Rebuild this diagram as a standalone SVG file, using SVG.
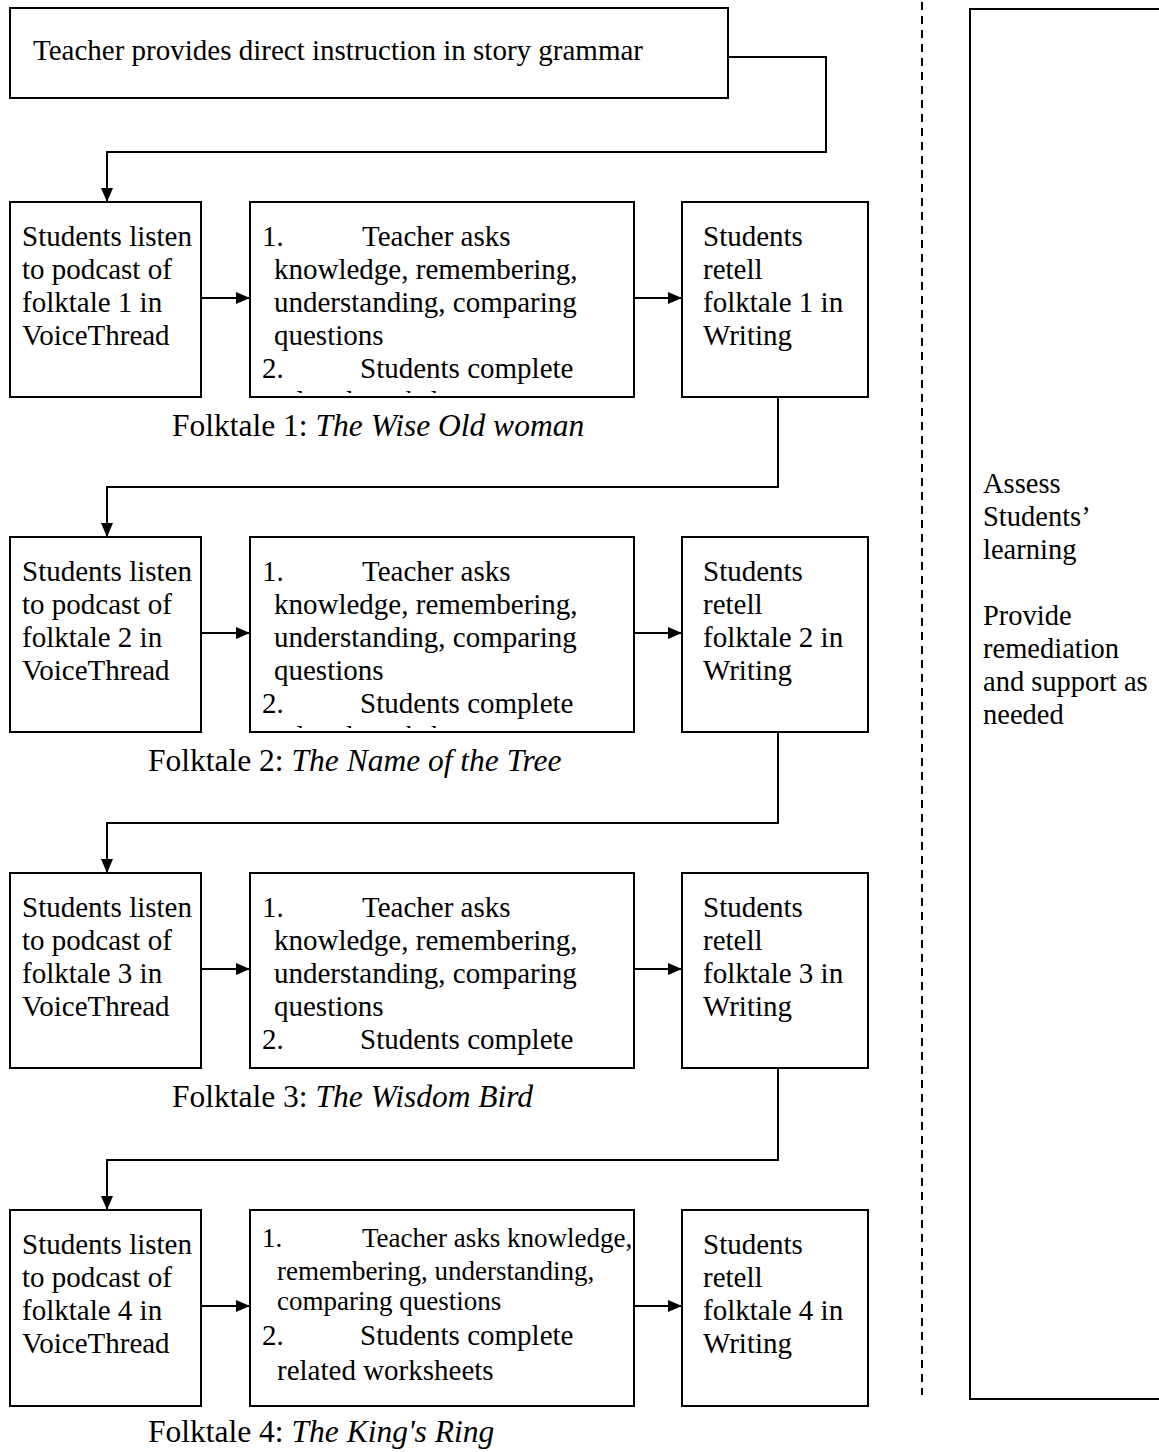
<svg xmlns="http://www.w3.org/2000/svg" width="1159" height="1452" viewBox="0 0 1159 1452">
  <style>
    .box { fill: #ffffff; stroke: #000000; stroke-width: 2; }
    .t { font-family: "Liberation Serif", "Times New Roman", serif; font-size: 29px; fill: #000000; }
    .ts { font-family: "Liberation Serif", "Times New Roman", serif; font-size: 27px; fill: #000000; }
    .tr { font-family: "Liberation Serif", "Times New Roman", serif; font-size: 28.5px; fill: #000000; }
    .cap { font-family: "Liberation Serif", "Times New Roman", serif; font-size: 31.5px; fill: #000000; }
    .it { font-style: italic; }
    .conn { fill: none; stroke: #000000; stroke-width: 2; }
    .dash { fill: none; stroke: #000000; stroke-width: 2; stroke-dasharray: 8 6; }
  </style>
  <defs>
    <marker id="arrow" markerUnits="userSpaceOnUse" markerWidth="14" markerHeight="12" refX="14" refY="6" orient="auto">
      <path d="M0,0 L14,6 L0,12 z" fill="#000000"/>
    </marker>
    <clipPath id="clip1"><rect x="250" y="202" width="384" height="191"/></clipPath>
    <clipPath id="clip2"><rect x="250" y="537" width="384" height="191"/></clipPath>
  </defs>

  <rect width="1159" height="1452" fill="#ffffff"/>

  <!-- separator between the flow and the assessment column -->
  <line class="dash" x1="922" y1="2" x2="922" y2="1395"/>

  <!-- connectors -->
  <g id="connectors">
    <path class="conn" d="M728,57 H826 V152 H107 V202" marker-end="url(#arrow)"/>
    <path class="conn" d="M201,298 H250" marker-end="url(#arrow)"/>
    <path class="conn" d="M634,298 H682" marker-end="url(#arrow)"/>
    <path class="conn" d="M778,397 V487 H107 V537" marker-end="url(#arrow)"/>
    <path class="conn" d="M201,633 H250" marker-end="url(#arrow)"/>
    <path class="conn" d="M634,633 H682" marker-end="url(#arrow)"/>
    <path class="conn" d="M778,732 V823 H107 V873" marker-end="url(#arrow)"/>
    <path class="conn" d="M201,969 H250" marker-end="url(#arrow)"/>
    <path class="conn" d="M634,969 H682" marker-end="url(#arrow)"/>
    <path class="conn" d="M778,1068 V1160 H107 V1210" marker-end="url(#arrow)"/>
    <path class="conn" d="M201,1306 H250" marker-end="url(#arrow)"/>
    <path class="conn" d="M634,1306 H682" marker-end="url(#arrow)"/>
  </g>

  <!-- opening step -->
  <g id="intro">
    <rect class="box" x="10" y="8" width="718" height="90"/>
    <text class="t" x="33" y="60">Teacher provides direct instruction in story grammar</text>
  </g>

  <!-- folktale 1 -->
  <g id="listen1">
    <rect class="box" x="10" y="202" width="191" height="195"/>
    <text class="t" x="22" y="246">Students listen</text>
    <text class="t" x="22" y="279">to podcast of</text>
    <text class="t" x="22" y="312">folktale 1 in</text>
    <text class="t" x="22" y="345">VoiceThread</text>
  </g>
  <g id="ask1">
    <rect class="box" x="250" y="202" width="384" height="195"/>
    <g clip-path="url(#clip1)">
      <text class="t" x="262" y="246">1.</text>
      <text class="t" x="362" y="246">Teacher asks</text>
      <text class="t" x="274" y="279">knowledge, remembering,</text>
      <text class="t" x="274" y="312">understanding, comparing</text>
      <text class="t" x="274" y="345">questions</text>
      <text class="t" x="262" y="378">2.</text>
      <text class="t" x="360" y="378">Students complete</text>
      <text class="t" x="274" y="411">related worksheets</text>
    </g>
  </g>
  <g id="retell1">
    <rect class="box" x="682" y="202" width="186" height="195"/>
    <text class="t" x="703" y="246">Students</text>
    <text class="t" x="703" y="279">retell</text>
    <text class="t" x="703" y="312">folktale 1 in</text>
    <text class="t" x="703" y="345">Writing</text>
  </g>
  <text id="caption1" class="cap" x="172" y="436">Folktale 1: <tspan class="it">The Wise Old woman</tspan></text>

  <!-- folktale 2 -->
  <g id="listen2">
    <rect class="box" x="10" y="537" width="191" height="195"/>
    <text class="t" x="22" y="581">Students listen</text>
    <text class="t" x="22" y="614">to podcast of</text>
    <text class="t" x="22" y="647">folktale 2 in</text>
    <text class="t" x="22" y="680">VoiceThread</text>
  </g>
  <g id="ask2">
    <rect class="box" x="250" y="537" width="384" height="195"/>
    <g clip-path="url(#clip2)">
      <text class="t" x="262" y="581">1.</text>
      <text class="t" x="362" y="581">Teacher asks</text>
      <text class="t" x="274" y="614">knowledge, remembering,</text>
      <text class="t" x="274" y="647">understanding, comparing</text>
      <text class="t" x="274" y="680">questions</text>
      <text class="t" x="262" y="713">2.</text>
      <text class="t" x="360" y="713">Students complete</text>
      <text class="t" x="274" y="746">related worksheets</text>
    </g>
  </g>
  <g id="retell2">
    <rect class="box" x="682" y="537" width="186" height="195"/>
    <text class="t" x="703" y="581">Students</text>
    <text class="t" x="703" y="614">retell</text>
    <text class="t" x="703" y="647">folktale 2 in</text>
    <text class="t" x="703" y="680">Writing</text>
  </g>
  <text id="caption2" class="cap" x="148" y="771">Folktale 2: <tspan class="it">The Name of the Tree</tspan></text>

  <!-- folktale 3 -->
  <g id="listen3">
    <rect class="box" x="10" y="873" width="191" height="195"/>
    <text class="t" x="22" y="917">Students listen</text>
    <text class="t" x="22" y="950">to podcast of</text>
    <text class="t" x="22" y="983">folktale 3 in</text>
    <text class="t" x="22" y="1016">VoiceThread</text>
  </g>
  <g id="ask3">
    <rect class="box" x="250" y="873" width="384" height="195"/>
    <text class="t" x="262" y="917">1.</text>
    <text class="t" x="362" y="917">Teacher asks</text>
    <text class="t" x="274" y="950">knowledge, remembering,</text>
    <text class="t" x="274" y="983">understanding, comparing</text>
    <text class="t" x="274" y="1016">questions</text>
    <text class="t" x="262" y="1049">2.</text>
    <text class="t" x="360" y="1049">Students complete</text>
  </g>
  <g id="retell3">
    <rect class="box" x="682" y="873" width="186" height="195"/>
    <text class="t" x="703" y="917">Students</text>
    <text class="t" x="703" y="950">retell</text>
    <text class="t" x="703" y="983">folktale 3 in</text>
    <text class="t" x="703" y="1016">Writing</text>
  </g>
  <text id="caption3" class="cap" x="172" y="1107">Folktale 3: <tspan class="it">The Wisdom Bird</tspan></text>

  <!-- folktale 4 -->
  <g id="listen4">
    <rect class="box" x="10" y="1210" width="191" height="196"/>
    <text class="t" x="22" y="1254">Students listen</text>
    <text class="t" x="22" y="1287">to podcast of</text>
    <text class="t" x="22" y="1320">folktale 4 in</text>
    <text class="t" x="22" y="1353">VoiceThread</text>
  </g>
  <g id="ask4">
    <rect class="box" x="250" y="1210" width="384" height="196"/>
    <text class="ts" x="262" y="1247">1.</text>
    <text class="ts" x="362" y="1247">Teacher asks knowledge,</text>
    <text class="ts" x="277" y="1280">remembering, understanding,</text>
    <text class="ts" x="277" y="1310">comparing questions</text>
    <text class="t" x="262" y="1345">2.</text>
    <text class="t" x="360" y="1345">Students complete</text>
    <text class="t" x="277" y="1380">related worksheets</text>
  </g>
  <g id="retell4">
    <rect class="box" x="682" y="1210" width="186" height="196"/>
    <text class="t" x="703" y="1254">Students</text>
    <text class="t" x="703" y="1287">retell</text>
    <text class="t" x="703" y="1320">folktale 4 in</text>
    <text class="t" x="703" y="1353">Writing</text>
  </g>
  <text id="caption4" class="cap" x="148" y="1442">Folktale 4: <tspan class="it">The King's Ring</tspan></text>

  <!-- assessment column -->
  <g id="assess">
    <rect class="box" x="970" y="9" width="200" height="1390"/>
    <text class="tr" x="983" y="493">Assess</text>
    <text class="tr" x="983" y="526">Students’</text>
    <text class="tr" x="983" y="559">learning</text>
    <text class="tr" x="983" y="625">Provide</text>
    <text class="tr" x="983" y="658">remediation</text>
    <text class="tr" x="983" y="691">and support as</text>
    <text class="tr" x="983" y="724">needed</text>
  </g>
</svg>
